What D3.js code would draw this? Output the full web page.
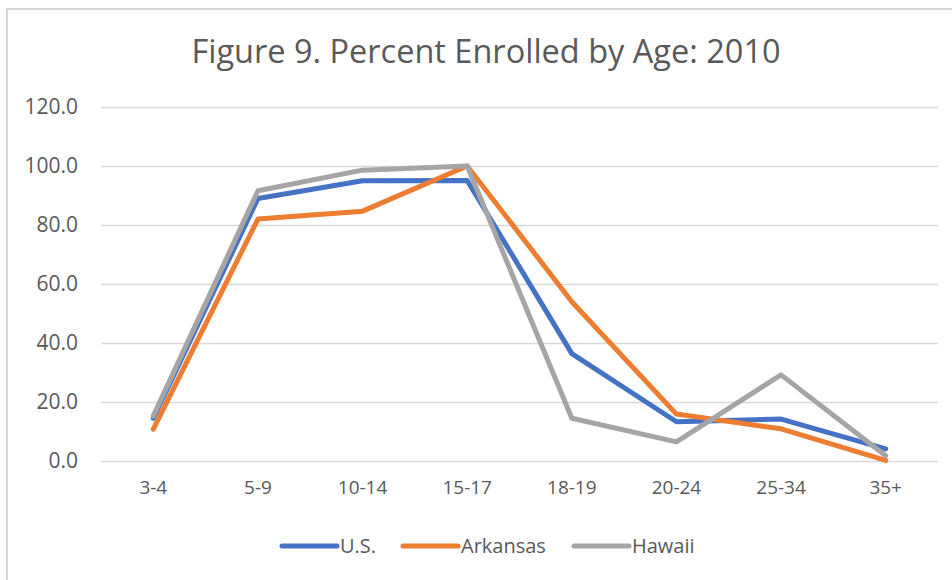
<!DOCTYPE html>
<html>
<head>
<meta charset="utf-8">
<script src="https://cdn.jsdelivr.net/npm/d3@7"></script>
<style>
  body { margin: 0; background: #fff; }
  text { font-family: "Open Sans", "Noto Sans", sans-serif; fill: #595959; }
</style>
</head>
<body>
<div id="chart"></div>
<script>
// age groups on the x axis
var ages = ["3-4", "5-9", "10-14", "15-17", "18-19", "20-24", "25-34", "35+"];
var usValues = [14.5, 89.0, 95.0, 95.1, 36.4, 13.3, 14.2, 4.1];
var arkansasValues = [10.8, 82.0, 84.7, 100.0, 54.0, 15.9, 10.9, 0.2];
var hawaiiValues = [15.3, 91.6, 98.6, 100.0, 14.5, 6.5, 29.2, 1.8];
var yTicks = [0, 20, 40, 60, 80, 100, 120];
var seriesNames = ["U.S.", "Arkansas", "Hawaii"];

(function() {
    var width = 952,
        height = 580;

    var colors = ["#4472C4", "#ED7D31", "#A5A5A5"];
    var series = [usValues, arkansasValues, hawaiiValues];

    var svg = d3.select("#chart")
        .append("svg")
        .attr("width", width)
        .attr("height", height);

    // chart border (right/bottom sit outside the window)
    svg.append("rect")
        .attr("x", 7)
        .attr("y", 9)
        .attr("width", 960)
        .attr("height", 600)
        .attr("fill", "none")
        .attr("stroke", "#d9d9d9")
        .attr("stroke-width", 2);

    var plotLeft = 101, plotRight = 938, plotTop = 107, plotBottom = 461;

    var x = d3.scaleBand().domain(ages).range([plotLeft, plotRight]);
    var y = d3.scaleLinear().domain([0, 120]).range([plotBottom, plotTop]);

    svg.append("text")
        .attr("x", 486)
        .attr("y", 63)
        .attr("text-anchor", "middle")
        .style("font-size", "32.5px")
        .text("Figure 9. Percent Enrolled by Age: 2010");

    // gridlines
    svg.append("g")
        .selectAll("line")
        .data(yTicks)
        .enter()
        .append("line")
        .attr("x1", plotLeft)
        .attr("x2", plotRight)
        .attr("y1", function(d) { return Math.round(y(d)) + 0.5; })
        .attr("y2", function(d) { return Math.round(y(d)) + 0.5; })
        .attr("stroke", "#d9d9d9")
        .attr("stroke-width", 1.5);

    var yAxis = svg.append("g")
        .attr("transform", "translate(" + plotLeft + ",0)")
        .call(d3.axisLeft(y).tickValues(yTicks).tickSize(0).tickPadding(23)
            .tickFormat(d3.format(".1f")));
    yAxis.select(".domain").remove();
    yAxis.selectAll("text").style("font-size", "21px").attr("fill", null);

    var xAxis = svg.append("g")
        .attr("transform", "translate(0," + plotBottom + ")")
        .call(d3.axisBottom(x).tickSize(0).tickPadding(20));
    xAxis.select(".domain").remove();
    xAxis.selectAll("text").style("font-size", "19px").attr("fill", null);

    var line = d3.line()
        .x(function(d, i) { return x(ages[i]) + x.bandwidth() / 2; })
        .y(function(d) { return y(d); });

    svg.selectAll(".series")
        .data(series)
        .enter()
        .append("path")
        .attr("class", "series")
        .attr("d", line)
        .attr("fill", "none")
        .attr("stroke", function(d, i) { return colors[i]; })
        .attr("stroke-width", 5)
        .attr("stroke-linejoin", "round")
        .attr("stroke-linecap", "round");

    // legend
    var legendX = [282, 403, 574];
    var legend = svg.selectAll(".legend")
        .data(seriesNames)
        .enter()
        .append("g")
        .attr("class", "legend")
        .attr("transform", function(d, i) { return "translate(" + legendX[i] + ",546)"; });

    legend.append("line")
        .attr("x1", 0)
        .attr("x2", 55)
        .attr("stroke", function(d, i) { return colors[i]; })
        .attr("stroke-width", 5)
        .attr("stroke-linecap", "round");

    legend.append("text")
        .attr("x", 58)
        .attr("dy", "0.35em")
        .style("font-size", "20px")
        .text(function(d) { return d; });
})();
</script>
</body>
</html>
